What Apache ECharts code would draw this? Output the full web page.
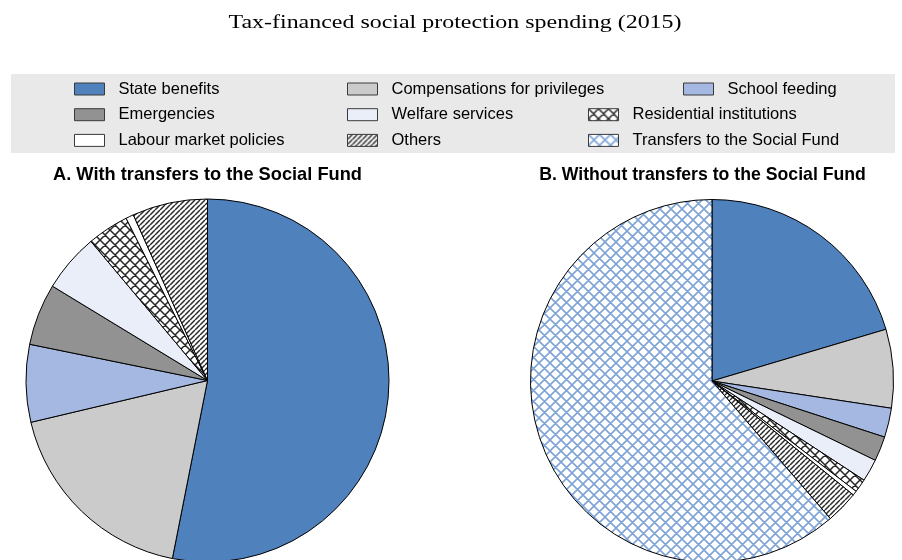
<!DOCTYPE html>
<html>
<head>
<meta charset="utf-8">
<script src="https://cdn.jsdelivr.net/npm/echarts@6/dist/echarts.min.js"></script>
<style>
  html, body { margin: 0; padding: 0; background: #ffffff; }
  #chart { width: 902px; height: 560px; }
</style>
</head>
<body>
<div id="chart"></div>
<script>
// Spending categories (legend order)
const categories = [
  'State benefits',
  'Compensations for privileges',
  'School feeding',
  'Emergencies',
  'Welfare services',
  'Residential institutions',
  'Labour market policies',
  'Others',
  'Transfers to the Social Fund'
];

// Panel A shares, % (no Social Fund slice)
const sharesA = [53.1, 18.2, 6.9, 5.5, 5.2, 3.7, 0.7, 6.7];

// Panel B shares, % (includes the Social Fund slice)
const sharesB = [20.4, 7.0, 2.6, 2.2, 2.0, 1.2, 0.4, 2.9, 61.3];

const panelTitles = ['A. With transfers to the Social Fund', 'B. Without transfers to the Social Fund'];
const chartTitle = 'Tax-financed social protection spending (2015)';

// ---- fill patterns -------------------------------------------------------
function hatchPattern(size, color, lineWidth, mode) {
  const c = document.createElement('canvas');
  c.width = size; c.height = size;
  const g = c.getContext('2d');
  g.fillStyle = '#ffffff';
  g.fillRect(0, 0, size, size);
  g.strokeStyle = color;
  g.lineWidth = lineWidth;
  g.beginPath();
  for (let k = -size; k <= size; k += size) {
    // "/" direction
    g.moveTo(k, size); g.lineTo(k + size, 0);
    if (mode === 'cross') {
      // "\" direction
      g.moveTo(k, 0); g.lineTo(k + size, size);
    }
  }
  g.stroke();
  return { image: c, repeat: 'repeat' };
}

const fills = [
  '#4f81bd',                                   // State benefits
  '#cbcbcb',                                   // Compensations
  '#a5b8e1',                                   // School feeding
  '#929292',                                   // Emergencies
  '#e9eef8',                                   // Welfare services
  hatchPattern(10, '#262626', 1.5, 'cross'),   // Residential institutions
  '#ffffff',                                   // Labour market policies
  hatchPattern(5, '#2b2b2b', 1.5, 'single'),   // Others
  hatchPattern(11, '#7ea3d6', 1.6, 'cross')    // Transfers to the Social Fund
];

function pieData(values) {
  return values.map((v, i) => ({
    name: categories[i],
    value: v,
    itemStyle: { color: fills[i] }
  }));
}

function pieSeries(values, center) {
  return {
    type: 'pie',
    center: center,
    radius: 181.5,
    startAngle: 90,
    clockwise: true,
    animation: false,
    silent: true,
    label: { show: false },
    labelLine: { show: false },
    emphasis: { disabled: true, scale: false },
    itemStyle: { borderColor: '#000000', borderWidth: 1 },
    data: pieData(values)
  };
}

const legendText = {
  fontFamily: '"Liberation Sans", Arial, sans-serif',
  fontSize: 16.5,
  color: '#000000',
  lineHeight: 18,
  padding: [0, 0, 0, 9]
};

function legendColumn(left, top, names) {
  return {
    orient: 'vertical',
    left: left,
    top: top,
    padding: 0,
    itemGap: 7.7,
    itemWidth: 30,
    itemHeight: 12,
    icon: 'rect',
    selectedMode: false,
    itemStyle: { borderColor: '#3a3a3a', borderWidth: 1 },
    textStyle: legendText,
    data: names
  };
}

function titleText(text, x, y, font, scaleX) {
  return {
    type: 'text',
    x: x, y: y,
    scaleX: scaleX,
    silent: true,
    style: {
      text: text,
      font: font,
      fill: '#000000',
      align: 'center', verticalAlign: 'middle',
      textAlign: 'center', textVerticalAlign: 'middle'
    }
  };
}

const chart = echarts.init(document.getElementById('chart'), null, { renderer: 'canvas' });

chart.setOption({
  backgroundColor: '#ffffff',
  animation: false,
  graphic: [
    {
      type: 'rect',
      z: 0,
      silent: true,
      shape: { x: 11, y: 74, width: 884, height: 79 },
      style: { fill: '#e9e9e9' }
    },
    titleText(chartTitle, 455, 23, '19px "Liberation Serif", "Times New Roman", serif', 1.26),
    titleText(panelTitles[0], 207.5, 175, 'bold 19px "Liberation Sans", Arial, sans-serif', 0.96),
    titleText(panelTitles[1], 702.5, 175, 'bold 19px "Liberation Sans", Arial, sans-serif', 0.93)
  ],
  legend: [
    legendColumn(74, 80, [categories[0], categories[3], categories[6]]),
    legendColumn(347, 80, [categories[1], categories[4], categories[7]]),
    legendColumn(683, 80, [categories[2]]),
    legendColumn(588, 105.7, [categories[5], categories[8]])
  ],
  series: [
    pieSeries(sharesA, [207.5, 380.5]),
    pieSeries(sharesB, [712, 381])
  ]
});
</script>
</body>
</html>
